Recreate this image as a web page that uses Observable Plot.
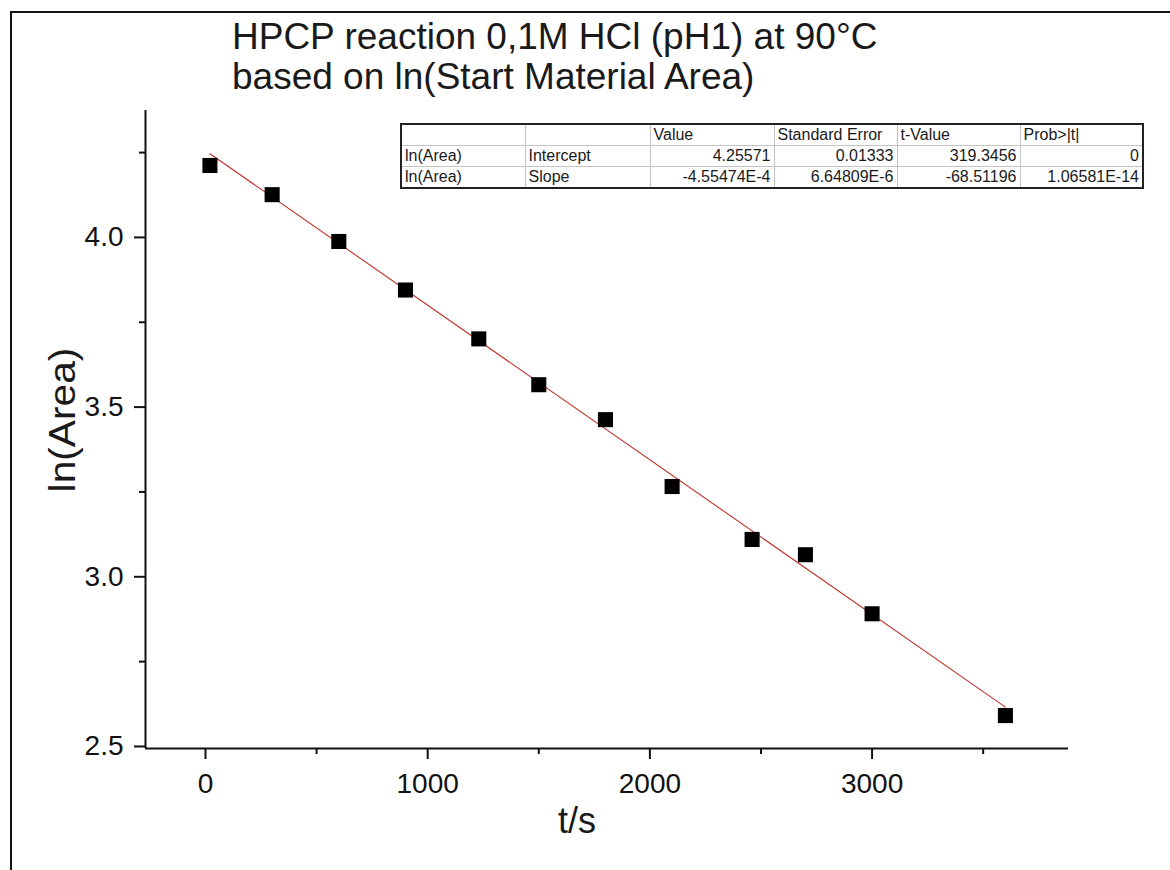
<!DOCTYPE html>
<html>
<head>
<meta charset="utf-8">
<script src="https://cdn.jsdelivr.net/npm/d3@7"></script>
<script src="https://cdn.jsdelivr.net/npm/@observablehq/plot@0.6"></script>
<style>
  html, body { margin: 0; padding: 0; background: #fff; width: 1170px; height: 870px; overflow: hidden;
    font-family: Arial, "Liberation Sans", sans-serif; }
  #frame { position: absolute; left: 10px; top: 11px; width: 1300px; height: 1000px;
    border: 2px solid #111; box-sizing: border-box; }
  #chart { position: absolute; left: 0; top: 0; }
  .title { position: absolute; left: 232px; font-size: 37px; line-height: 37px; color: #1a1a1a; white-space: nowrap; }
  #t1 { top: 18px; }
  #t2 { top: 58px; }
  #ylab { position: absolute; left: 62px; top: 420px; font-size: 37px; line-height: 37px; color: #1a1a1a;
    white-space: nowrap; transform: translate(-50%, -50%) rotate(-90deg) scaleX(1.1); }
  #fit { position: absolute; left: 400px; top: 123px; border-collapse: collapse; background: #fff;
    border: 2px solid #222; font-size: 16px; color: #1a1a1a; table-layout: fixed; }
  #fit td, #fit th { border: 1px solid #c4c4c4; height: 20px; padding: 0 3px; font-weight: normal;
    white-space: nowrap; overflow: hidden; line-height: 20px; }
  #fit th { text-align: left; }
  #fit td.num { text-align: right; }
</style>
</head>
<body>
<div id="frame"></div>
<div id="chart"></div>
<div class="title" id="t1">HPCP reaction 0,1M HCl (pH1) at 90°C</div>
<div class="title" id="t2">based on ln(Start Material Area)</div>
<div id="ylab">ln(Area)</div>
<table id="fit">
  <colgroup>
    <col style="width:124px"><col style="width:125px"><col style="width:124px">
    <col style="width:123px"><col style="width:123px"><col style="width:123px">
  </colgroup>
  <thead><tr id="fitHead"></tr></thead>
  <tbody id="fitBody"></tbody>
</table>
<script>
// Measured samples: reaction time (s) and ln of the start-material peak area
const timeS  = [20, 300, 600, 900, 1230, 1500, 1800, 2100, 2460, 2700, 3000, 3600];
const lnArea = [4.212, 4.126, 3.988, 3.845, 3.701, 3.566, 3.463, 3.266, 3.11, 3.065, 2.891, 2.591];

// Linear fit results
const fitHeader = ["", "", "Value", "Standard Error", "t-Value", "Prob>|t|"];
const fitDependent = ["ln(Area)", "ln(Area)"];
const fitTerms = ["Intercept", "Slope"];
const fitValue = [4.25571, -4.55474e-4];
const fitStdErr = [0.01333, 6.64809e-6];
const fitTValue = [319.3456, -68.51196];
const fitProb = [0, 1.06581e-14];

// Axis ticks
const xMajor = [0, 1000, 2000, 3000];
const xMinor = [500, 1500, 2500, 3500];
const yMajor = [2.5, 3.0, 3.5, 4.0];
const yMinor = [2.75, 3.25, 3.75, 4.25];
const xDomain = [-270, 3884];
const yDomain = [2.494, 4.374];

// Number formatting in the style of the fit report
function fmt(v) {
  if (v === 0) return "0";
  if (Math.abs(v) < 1e-3) return v.toExponential().replace("e", "E").replace("+", "");
  return String(v);
}

// Fit report table
const head = document.getElementById("fitHead");
fitHeader.forEach(h => { const th = document.createElement("th"); th.textContent = h; head.appendChild(th); });
const body = document.getElementById("fitBody");
fitTerms.forEach((term, i) => {
  const tr = document.createElement("tr");
  const cells = [[fitDependent[i], false], [term, false], [fmt(fitValue[i]), true],
                 [fmt(fitStdErr[i]), true], [fmt(fitTValue[i]), true], [fmt(fitProb[i]), true]];
  cells.forEach(([txt, num]) => {
    const td = document.createElement("td");
    td.textContent = txt;
    if (num) td.className = "num";
    tr.appendChild(td);
  });
  body.appendChild(tr);
});

const points = timeS.map((t, i) => ({t, v: lnArea[i]}));
const fitLine = d3.extent(timeS).map(t => ({t, v: fitValue[0] + fitValue[1] * t}));

const chart = Plot.plot({
  width: 1170,
  height: 870,
  marginLeft: 145,
  marginRight: 102,
  marginTop: 110,
  marginBottom: 122,
  style: {fontFamily: "Arial, 'Liberation Sans', sans-serif", background: "transparent", color: "#111", overflow: "visible"},
  x: {domain: xDomain},
  y: {domain: yDomain},
  marks: [
    Plot.axisX(xMajor, {tickSize: 11, tickPadding: 14, fontSize: 28, strokeWidth: 2, label: null, tickFormat: d => String(d)}),
    Plot.axisX(xMinor, {tickSize: 6, strokeWidth: 2, label: null, tickFormat: () => ""}),
    Plot.axisY(yMajor, {tickSize: 11, tickPadding: 11, fontSize: 28, strokeWidth: 2, label: null, tickFormat: d => d.toFixed(1)}),
    Plot.axisY(yMinor, {tickSize: 6, strokeWidth: 2, label: null, tickFormat: () => ""}),
    Plot.ruleX([xDomain[0]], {strokeWidth: 2}),
    Plot.ruleY([yDomain[0]], {strokeWidth: 2}),
    Plot.line(fitLine, {x: "t", y: "v", stroke: "#c0302a", strokeWidth: 1.1}),
    Plot.dot(points, {x: "t", y: "v", symbol: "square", r: 8.5, fill: "#000", stroke: "none"}),
    Plot.text(["t/s"], {frameAnchor: "bottom", dx: -30, dy: 84, fontSize: 36, fill: "#1a1a1a"})
  ]
});
document.getElementById("chart").appendChild(chart);
</script>
</body>
</html>
